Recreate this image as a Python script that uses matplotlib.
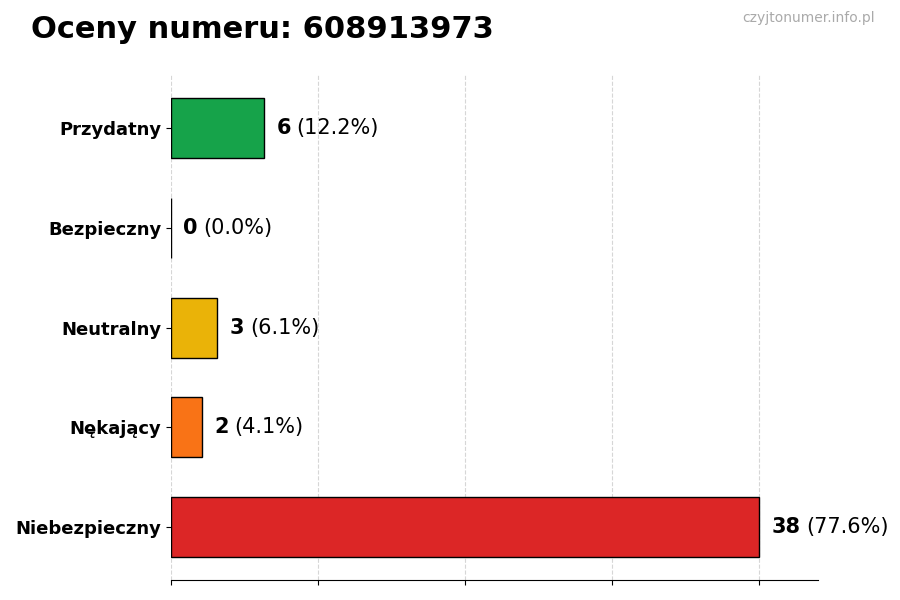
import matplotlib
matplotlib.use('Agg')
from matplotlib import pyplot as plt

categories = ['Przydatny', 'Bezpieczny', 'Neutralny', 'Nękający', 'Niebezpieczny']
counts = [6, 0, 3, 2, 38]
percents = [12.2, 0.0, 6.1, 4.1, 77.6]
colors = ['#16a34a', '#2563eb', '#eab308', '#f97316', '#dc2626']
number = '608913973'

fig = plt.figure(figsize=(9, 6), dpi=100)
ax = fig.add_axes([0.19, 0.033, 0.719, 0.842])

ypos = list(range(len(categories)))[::-1]
ax.barh(ypos, counts, height=0.6, color=colors, edgecolor='black', linewidth=1, zorder=2)

top = max(counts)
ax.set_xlim(0, top * 1.1)
ax.set_xticks([top * i / 4 for i in range(5)])
ax.set_xticklabels([])
ax.set_yticks(ypos)
ax.set_yticklabels(categories, fontsize=13, fontweight='bold')
ax.grid(axis='x', linestyle='--', color='#bbbbbb', linewidth=0.8, alpha=0.6, zorder=3)
for s in ['top', 'right', 'left']:
    ax.spines[s].set_visible(False)

for y, c, p in zip(ypos, counts, percents):
    t = ax.annotate(str(c), xy=(c, y), xytext=(9, 0), textcoords='offset points',
                    va='center', ha='left', fontsize=15, fontweight='bold')
    ax.annotate('(%.1f%%)' % p, xy=(1, 0.5), xycoords=t, xytext=(4, 0),
                textcoords='offset points', va='center', ha='left', fontsize=15)

fig.text(0.034, 0.95, 'Oceny numeru: ' + number, fontsize=22, fontweight='bold', va='center')
fig.text(0.972, 0.97, 'czyjtonumer.info.pl', fontsize=10, color='#aaaaaa', ha='right', va='center')

fig.savefig('out.png', dpi=100)
